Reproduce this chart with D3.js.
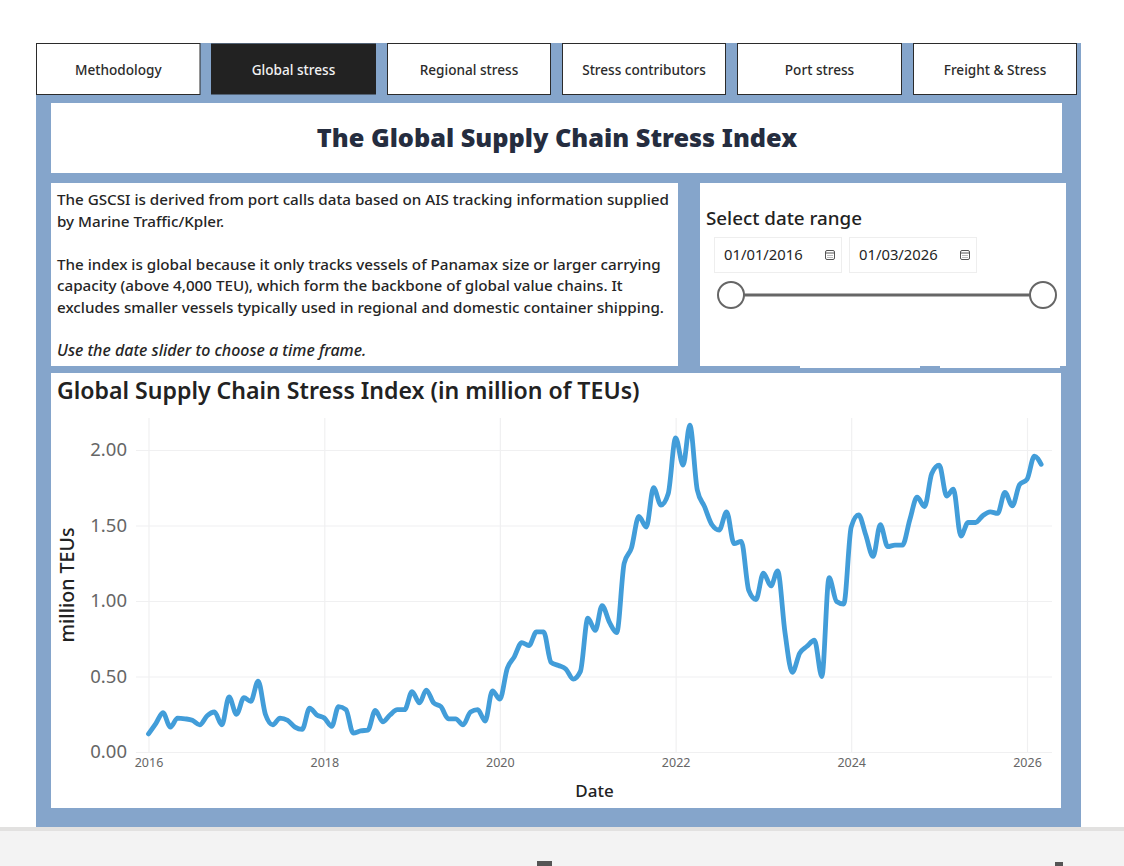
<!DOCTYPE html>
<html>
<head>
<meta charset="utf-8">
<title>Global Supply Chain Stress Index</title>
<script src="https://cdnjs.cloudflare.com/ajax/libs/d3/7.8.5/d3.min.js"></script>
<style>
  html, body { margin: 0; padding: 0; background: #fff; }
  svg { display: block; }
  text { font-family: "Noto Sans", "Open Sans", sans-serif; }
  .domain { display: none; }
</style>
</head>
<body>
<div id="page"></div>
<script>
var w = 1124, h = 866;

var tabs = ["Methodology", "Global stress", "Regional stress", "Stress contributors", "Port stress", "Freight & Stress"];
var activeTab = "Global stress";

var introLines = [
  "The GSCSI is derived from port calls data based on AIS tracking information supplied",
  "by Marine Traffic/Kpler.",
  "",
  "The index is global because it only tracks vessels of Panamax size or larger carrying",
  "capacity (above 4,000 TEU), which form the backbone of global value chains. It",
  "excludes smaller vessels typically used in regional and domestic container shipping.",
  "",
  "Use the date slider to choose a time frame."
];

var dateLabels = ["01/01/2016", "01/03/2026"];
var yTicks = [0, 0.5, 1, 1.5, 2];
var xTickYears = [2016, 2018, 2020, 2022, 2024, 2026];

// monthly values, Jan 2016 to Mar 2026
var v2016 = [0.12, 0.19, 0.26, 0.165, 0.225, 0.22, 0.21, 0.18, 0.24, 0.265, 0.18, 0.365];
var v2017 = [0.25, 0.36, 0.335, 0.47, 0.25, 0.18, 0.225, 0.21, 0.165, 0.15, 0.29, 0.245];
var v2018 = [0.225, 0.17, 0.30, 0.28, 0.125, 0.14, 0.145, 0.275, 0.20, 0.245, 0.28, 0.28];
var v2019 = [0.40, 0.325, 0.41, 0.325, 0.30, 0.22, 0.22, 0.18, 0.265, 0.28, 0.205, 0.405];
var v2020 = [0.35, 0.555, 0.63, 0.725, 0.705, 0.795, 0.795, 0.593, 0.573, 0.55, 0.483, 0.534];
var v2021 = [0.886, 0.805, 0.97, 0.858, 0.79, 1.25, 1.35, 1.56, 1.49, 1.75, 1.635, 1.71];
var v2022 = [2.08, 1.90, 2.165, 1.735, 1.625, 1.505, 1.47, 1.59, 1.38, 1.395, 1.07, 1.01];
var v2023 = [1.185, 1.10, 1.20, 0.787, 0.527, 0.655, 0.70, 0.74, 0.50, 1.155, 0.997, 0.98];
var v2024 = [1.49, 1.57, 1.44, 1.295, 1.505, 1.36, 1.37, 1.37, 1.54, 1.687, 1.625, 1.845];
var v2025 = [1.90, 1.695, 1.74, 1.43, 1.52, 1.52, 1.565, 1.59, 1.58, 1.72, 1.63, 1.77];
var v2026 = [1.805, 1.96, 1.905];

var yearValues = [v2016, v2017, v2018, v2019, v2020, v2021, v2022, v2023, v2024, v2025, v2026];

var svg = d3.select("#page").append("svg").attr("width", w).attr("height", h);

function box(x, y, bw, bh, fill, stroke) {
  return svg.append("rect").attr("x", x).attr("y", y).attr("width", bw).attr("height", bh)
    .attr("fill", fill).attr("stroke", stroke || "none");
}

function drawFrame() {
  box(0, 827, w, 4, "#e2e1e0");
  box(0, 831, w, 35, "#f3f3f3");
  box(537, 861, 15, 5, "#555");
  box(1055, 862, 8, 4, "#555");
  box(36, 43, 1045, 784, "#85a5cb");
}

function drawTabs() {
  var tabX = [36.5, 211, 387.5, 562.5, 737.5, 913.5];
  var tabW = [163.5, 165, 163, 163, 164, 163];
  tabs.forEach(function (t, i) {
    var on = t === activeTab;
    box(tabX[i], 43.5, tabW[i], 51, on ? "#222222" : "#fff", on ? "none" : "#2b2b2b");
    svg.append("text").attr("x", tabX[i] + tabW[i] / 2).attr("y", 75)
      .attr("text-anchor", "middle").attr("font-size", 13.6).attr("font-weight", 500)
      .attr("fill", on ? "#f2f2f2" : "#2b2b2b").text(t);
  });
}

function drawHeader() {
  box(51, 103, 1011, 70, "#fff");
  svg.append("text").attr("x", 557).attr("y", 147).attr("text-anchor", "middle")
    .attr("font-size", 25.3).attr("font-weight", 900).attr("fill", "#252d3f")
    .text("The Global Supply Chain Stress Index");
}

function drawIntro() {
  box(51, 183, 627, 183, "#fff");
  introLines.forEach(function (line, i) {
    var last = i === 7;
    svg.append("text").attr("x", 57).attr("y", 205 + i * 21.5)
      .attr("font-size", last ? 16 : 15.2).attr("font-weight", 500).attr("fill", "#252525")
      .attr("font-style", last ? "italic" : "normal").text(line);
  });
}

function calendarIcon(cx, cy) {
  box(cx - 4.5, cy - 4.5, 9, 9, "none", "#555").attr("rx", 1.5);
  svg.append("line").attr("x1", cx - 4.5).attr("x2", cx + 4.5).attr("y1", cy - 2).attr("y2", cy - 2).attr("stroke", "#555");
  svg.append("line").attr("x1", cx - 2.5).attr("x2", cx + 2.5).attr("y1", cy + 0.5).attr("y2", cy + 0.5).attr("stroke", "#777").attr("stroke-dasharray", "1 1");
  svg.append("line").attr("x1", cx - 2.5).attr("x2", cx + 2.5).attr("y1", cy + 2.5).attr("y2", cy + 2.5).attr("stroke", "#777").attr("stroke-dasharray", "1 1");
}

function drawSlicer() {
  box(700, 183, 366, 183, "#fff");
  box(800, 366, 120, 2, "#fff");
  box(940, 366, 120, 2, "#fff");
  svg.append("text").attr("x", 706).attr("y", 225).attr("font-size", 18.8).attr("font-weight", 500)
    .attr("fill", "#222").text("Select date range");

  var inputX = [714.5, 849.5];
  dateLabels.forEach(function (d, i) {
    box(inputX[i], 237.5, 127, 35, "#fff", "#eeeeee");
    svg.append("text").attr("x", inputX[i] + 9.5).attr("y", 260).attr("font-size", 14.8)
      .attr("fill", "#252525").text(d);
    calendarIcon(inputX[i] + 115.5, 255);
  });

  svg.append("line").attr("x1", 731).attr("x2", 1043).attr("y1", 295).attr("y2", 295)
    .attr("stroke", "#666").attr("stroke-width", 3);
  [731, 1043].forEach(function (cx) {
    svg.append("circle").attr("cx", cx).attr("cy", 295).attr("r", 13)
      .attr("fill", "#fff").attr("stroke", "#666").attr("stroke-width", 2);
  });
}

function drawChart() {
  box(51, 373, 1010, 435, "#fff");
  svg.append("text").attr("x", 57).attr("y", 399).attr("font-size", 23.1).attr("font-weight", 600)
    .attr("fill", "#222").text("Global Supply Chain Stress Index (in million of TEUs)");

  var series = [];
  yearValues.forEach(function (vals, yi) {
    vals.forEach(function (val, mi) {
      series.push({ date: new Date(2016 + yi, mi, 1), value: val });
    });
  });

  var x = d3.scaleTime().domain([new Date(2016, 0, 1), new Date(2026, 0, 1)]).range([148.5, 1027]);
  var y = d3.scaleLinear().domain([0, 2]).range([752, 450]);

  var xAxis = d3.axisBottom(x)
    .tickValues(xTickYears.map(function (yr) { return new Date(yr, 0, 1); }))
    .tickFormat(d3.timeFormat("%Y")).tickSize(0).tickPadding(6);
  var yAxis = d3.axisLeft(y).tickValues(yTicks).tickFormat(d3.format(".2f")).tickSize(0).tickPadding(9);

  var gx = svg.append("g").attr("transform", "translate(0,752)").call(xAxis);
  gx.selectAll("text").attr("font-size", 12.5).attr("fill", "#666");
  gx.selectAll(".tick").append("line")
    .attr("y1", 0).attr("y2", -334).attr("stroke", "#f0f0f1").attr("stroke-width", 1.2);

  var gy = svg.append("g").attr("transform", "translate(136,0)").call(yAxis);
  gy.selectAll("text").attr("font-size", 18.5).attr("fill", "#666");
  gy.selectAll(".tick").append("line")
    .attr("x1", 0).attr("x2", 916).attr("stroke", "#f0f0f1").attr("stroke-width", 1.2);

  var line = d3.line()
    .x(function (d) { return x(d.date); })
    .y(function (d) { return y(d.value); })
    .curve(d3.curveMonotoneX);

  svg.append("path").datum(series).attr("d", line)
    .attr("fill", "none").attr("stroke", "#429dd9").attr("stroke-width", 4.8)
    .attr("stroke-linejoin", "round").attr("stroke-linecap", "round");

  svg.append("text").attr("transform", "translate(74,585) rotate(-90)").attr("text-anchor", "middle")
    .attr("font-size", 19.6).attr("font-weight", 500).attr("fill", "#222").text("million TEUs");
  svg.append("text").attr("x", 594.5).attr("y", 797).attr("text-anchor", "middle")
    .attr("font-size", 17).attr("font-weight", 500).attr("fill", "#222").text("Date");
}

function init() {
  drawFrame();
  drawTabs();
  drawHeader();
  drawIntro();
  drawSlicer();
  drawChart();
}

init();
</script>
</body>
</html>
